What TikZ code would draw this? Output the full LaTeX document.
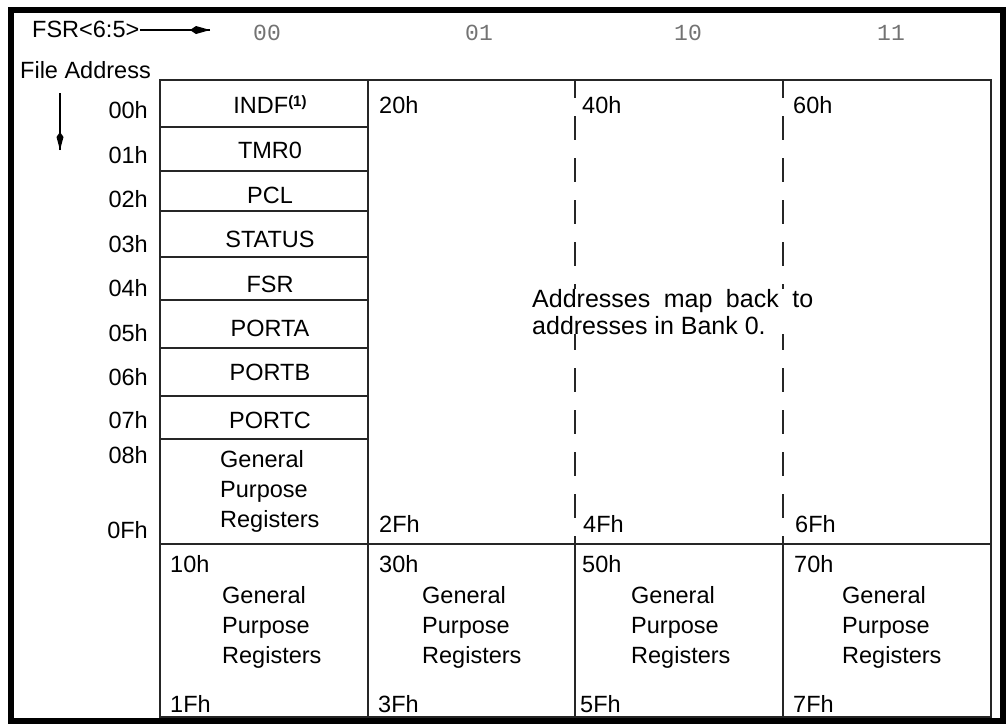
\documentclass[tikz,border=0pt]{standalone}
\usepackage{fontspec}
\setmainfont{Liberation Sans}
\newfontfamily\bankfont{Liberation Mono}
\usepackage{tikz}

\begin{document}
\begin{tikzpicture}[x=1pt,y=-1pt]
\tikzstyle{every node}+=[inner sep=0pt, font=\fontsize{23.5}{30}\selectfont]
\tikzstyle{cellline}=[black!85, line width=1.8pt]
\tikzstyle{mirrorline}=[black!85, line width=1.5pt, dash pattern=on 24pt off 18pt, dash phase=6pt]
\tikzstyle{banknum}=[anchor=base, black!55, font=\bankfont\fontsize{23}{23}\selectfont]
\tikzstyle{addrlabel}=[anchor=base east]
\tikzstyle{regname}=[anchor=base]
\tikzstyle{banktag}=[anchor=base west]
\tikzstyle{gprtext}=[anchor=base west, align=left]
\useasboundingbox (0,0) rectangle (1008,724);
\draw [black, line width=6pt] (10.5,10) rectangle (1003,721);
\draw [cellline] (160,80) rectangle (991,717);
\draw [cellline] (368,80) -- (368,717);
\draw [cellline] (160,544) -- (991,544);
\draw [cellline] (575,544) -- (575,717);
\draw [cellline] (783,544) -- (783,717);
\draw [cellline] (160,127) -- (368,127);
\draw [cellline] (160,171) -- (368,171);
\draw [cellline] (160,211) -- (368,211);
\draw [cellline] (160,257) -- (368,257);
\draw [cellline] (160,300) -- (368,300);
\draw [cellline] (160,348) -- (368,348);
\draw [cellline] (160,396) -- (368,396);
\draw [cellline] (160,439) -- (368,439);
\draw [mirrorline] (575,80) -- (575,544);
\draw [mirrorline] (783,80) -- (783,544);
\node (fsr) [anchor=base west] at (32,37) {FSR<6:5>};
\coordinate (fsrtip) at (210,30);
\draw [black, line width=1.3pt] (fsr.east |- fsrtip) -- (fsrtip);
\fill [black] (fsrtip) -- ++(-14,-4) -- ++(-6,4) -- ++(6,4) -- cycle;
\node (faddr) [anchor=base west] at (20,78) {File Address};
\coordinate (downtop) at (60,93);
\coordinate (downtip) at (60,150);
\draw [black, line width=1.3pt] (downtop) -- (downtip);
\fill [black] (downtip) -- ++(-3.5,-13) -- ++(3.5,-5) -- ++(3.5,5) -- cycle;
\node [banknum] (bank0) at (267,40) {00};
\node [banknum] (bank1) at (479,40) {01};
\node [banknum] (bank2) at (688,40) {10};
\node [banknum] (bank3) at (891,40) {11};
\node [addrlabel] (a00) at (148,118) {00h};
\node [addrlabel] (a01) at (148,163) {01h};
\node [addrlabel] (a02) at (148,207) {02h};
\node [addrlabel] (a03) at (148,252) {03h};
\node [addrlabel] (a04) at (148,296) {04h};
\node [addrlabel] (a05) at (148,341) {05h};
\node [addrlabel] (a06) at (148,385) {06h};
\node [addrlabel] (a07) at (148,428) {07h};
\node [addrlabel] (a08) at (148,463) {08h};
\node [addrlabel] (a0f) at (148,538) {0Fh};
\node [regname] (indf) at (270,113) {INDF\raisebox{7pt}{\fontsize{15}{15}\selectfont\bfseries(1)}};
\node [regname] (tmr0) at (270,158) {TMR0};
\node [regname] (pcl) at (270,203) {PCL};
\node [regname] (status) at (270,247) {STATUS};
\node [regname] (fsrreg) at (270,292) {FSR};
\node [regname] (porta) at (270,336) {PORTA};
\node [regname] (portb) at (270,380) {PORTB};
\node [regname] (portc) at (270,428) {PORTC};
\node [gprtext] (gpr0) at (220,527) {General\\Purpose\\Registers};
\node [banktag] (t20) at (379,113) {20h};
\node [banktag] (t40) at (582,113) {40h};
\node [banktag] (t60) at (793,113) {60h};
\node [banktag] (t2f) at (379,532) {2Fh};
\node [banktag] (t4f) at (583,532) {4Fh};
\node [banktag] (t6f) at (795,532) {6Fh};
\node (mirror) [anchor=base west, align=left, fill=white, font=\fontsize{25}{27}\selectfont] at (532,334)
  {\makebox[281pt][s]{Addresses map back to}\\addresses in Bank 0.};
\node [banktag] (t10) at (170,572) {10h};
\node [banktag] (t30) at (379,572) {30h};
\node [banktag] (t50) at (582,572) {50h};
\node [banktag] (t70) at (794,572) {70h};
\node [gprtext] (gpr1) at (222,663) {General\\Purpose\\Registers};
\node [gprtext] (gpr3) at (422,663) {General\\Purpose\\Registers};
\node [gprtext] (gpr5) at (631,663) {General\\Purpose\\Registers};
\node [gprtext] (gpr7) at (842,663) {General\\Purpose\\Registers};
\node [banktag] (t1f) at (170,712) {1Fh};
\node [banktag] (t3f) at (378,712) {3Fh};
\node [banktag] (t5f) at (580,712) {5Fh};
\node [banktag] (t7f) at (793,712) {7Fh};
\end{tikzpicture}
\end{document}
